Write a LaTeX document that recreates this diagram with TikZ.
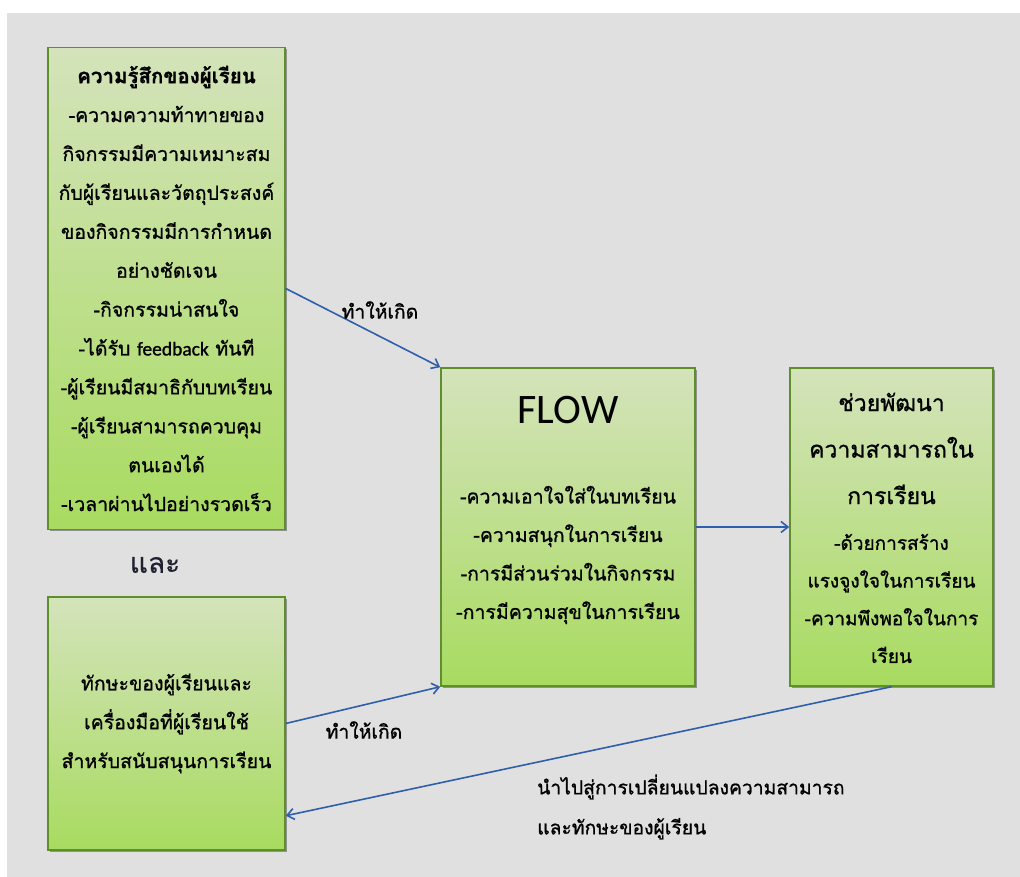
\documentclass[tikz,border=0pt]{standalone}
\usepackage{fontspec}
\newfontfamily\thai[Script=Thai,FakeBold=1]{Loma}
\newfontfamily\thaiplain[Script=Thai,FakeBold=0.5]{Loma}
\newfontfamily\latin[FakeBold=1]{Carlito}
\newfontfamily\latinplain{Carlito}
\usetikzlibrary{shadows,arrows.meta,calc}
\definecolor{bggray}{HTML}{E0E0E0}
\definecolor{boxtop}{HTML}{D4E3BB}
\definecolor{boxbot}{HTML}{A8DB60}
\definecolor{boxline}{HTML}{5F8F2A}
\definecolor{arrowblue}{HTML}{2F5FAA}
\definecolor{andtext}{HTML}{1E2230}
\tikzset{
  gbox/.style={draw=boxline, line width=1.5pt, top color=boxtop, bottom color=boxbot,
    drop shadow={shadow xshift=2pt, shadow yshift=-2pt, fill=black, opacity=0.35},
    align=center, inner sep=0pt, font=\thai\fontsize{19.5}{38.9}\selectfont},
  txt/.style={align=center, inner sep=0pt, font=\thai\fontsize{19.5}{38.5}\selectfont},
  conn/.style={draw=arrowblue, line width=1.6pt, -{Straight Barb[length=7pt,width=11pt]}},
  lbl/.style={inner sep=0pt, font=\thai\fontsize{19.3}{40}\selectfont}
}
\begin{document}
\begin{tikzpicture}[x=1pt,y=1pt]
\useasboundingbox (0,0) rectangle (1020,877);
\fill[white] (0,0) rectangle (1020,877);
\fill[bggray] (7,0) rectangle (1020,864);

\node[gbox, minimum width=237pt, minimum height=482pt] (b1) at (166.5,588.5)
 {{\fontsize{20.5}{38.9}\selectfont\bfseries ความรู้สึกของผู้เรียน}\\-ความความท้าทายของ\\กิจกรรมมีความเหมาะสม\\กับผู้เรียนและวัตถุประสงค์\\ของกิจกรรมมีการกำหนด\\อย่างชัดเจน\\-กิจกรรมน่าสนใจ\\-ได้รับ {\latin feedback} ทันที\\-ผู้เรียนมีสมาธิกับบทเรียน\\-ผู้เรียนสามารถควบคุม\\ตนเองได้\\-เวลาผ่านไปอย่างรวดเร็ว};

\node[gbox, minimum width=237pt, minimum height=253pt] (b2) at (166.5,153.5)
 {ทักษะของผู้เรียนและ\\เครื่องมือที่ผู้เรียนใช้\\สำหรับสนับสนุนการเรียน};

\node[gbox, minimum width=254pt, minimum height=318pt] (flow) at (568,350) {};
\node[inner sep=0pt, font=\latinplain\fontsize{42}{50}\selectfont] (flowt) at (568,467) {FLOW};
\node[txt] (flowl) at (568,322)
 {-ความเอาใจใส่ในบทเรียน\\-ความสนุกในการเรียน\\-การมีส่วนร่วมในกิจกรรม\\-การมีความสุขในการเรียน};

\node[gbox, minimum width=203pt, minimum height=318pt] (b3) at (891.5,350) {};
\node[txt, font=\thai\fontsize{23}{46.5}\selectfont] (b3t) at (891.5,428.5)
 {ช่วยพัฒนา\\ความสามารถใน\\การเรียน};
\node[txt, font=\thai\fontsize{19}{37.7}\selectfont] (b3l) at (891.5,278.5)
 {-ด้วยการสร้าง\\แรงจูงใจในการเรียน\\-ความพึงพอใจในการ\\เรียน};

\node[inner sep=0pt, font=\thaiplain\fontsize{28}{30}\selectfont, text=andtext] (and) at (155,312) {และ};

\draw[conn] (b1.east) -- (flow.north west);
\draw[conn] (b2.east) -- (flow.south west);
\draw[conn] (flow.east) -- (b3.west);
\draw[conn] (b3.south) -- ($(b2.south east)+(0,35)$);

\node[lbl] (l1) at (380,567) {ทำให้เกิด};
\node[lbl] (l2) at (364,147) {ทำให้เกิด};
\node[lbl, anchor=west, align=left] (l4) at (537,70)
 {นำไปสู่การเปลี่ยนแปลงความสามารถ\\และทักษะของผู้เรียน};
\end{tikzpicture}
\end{document}
